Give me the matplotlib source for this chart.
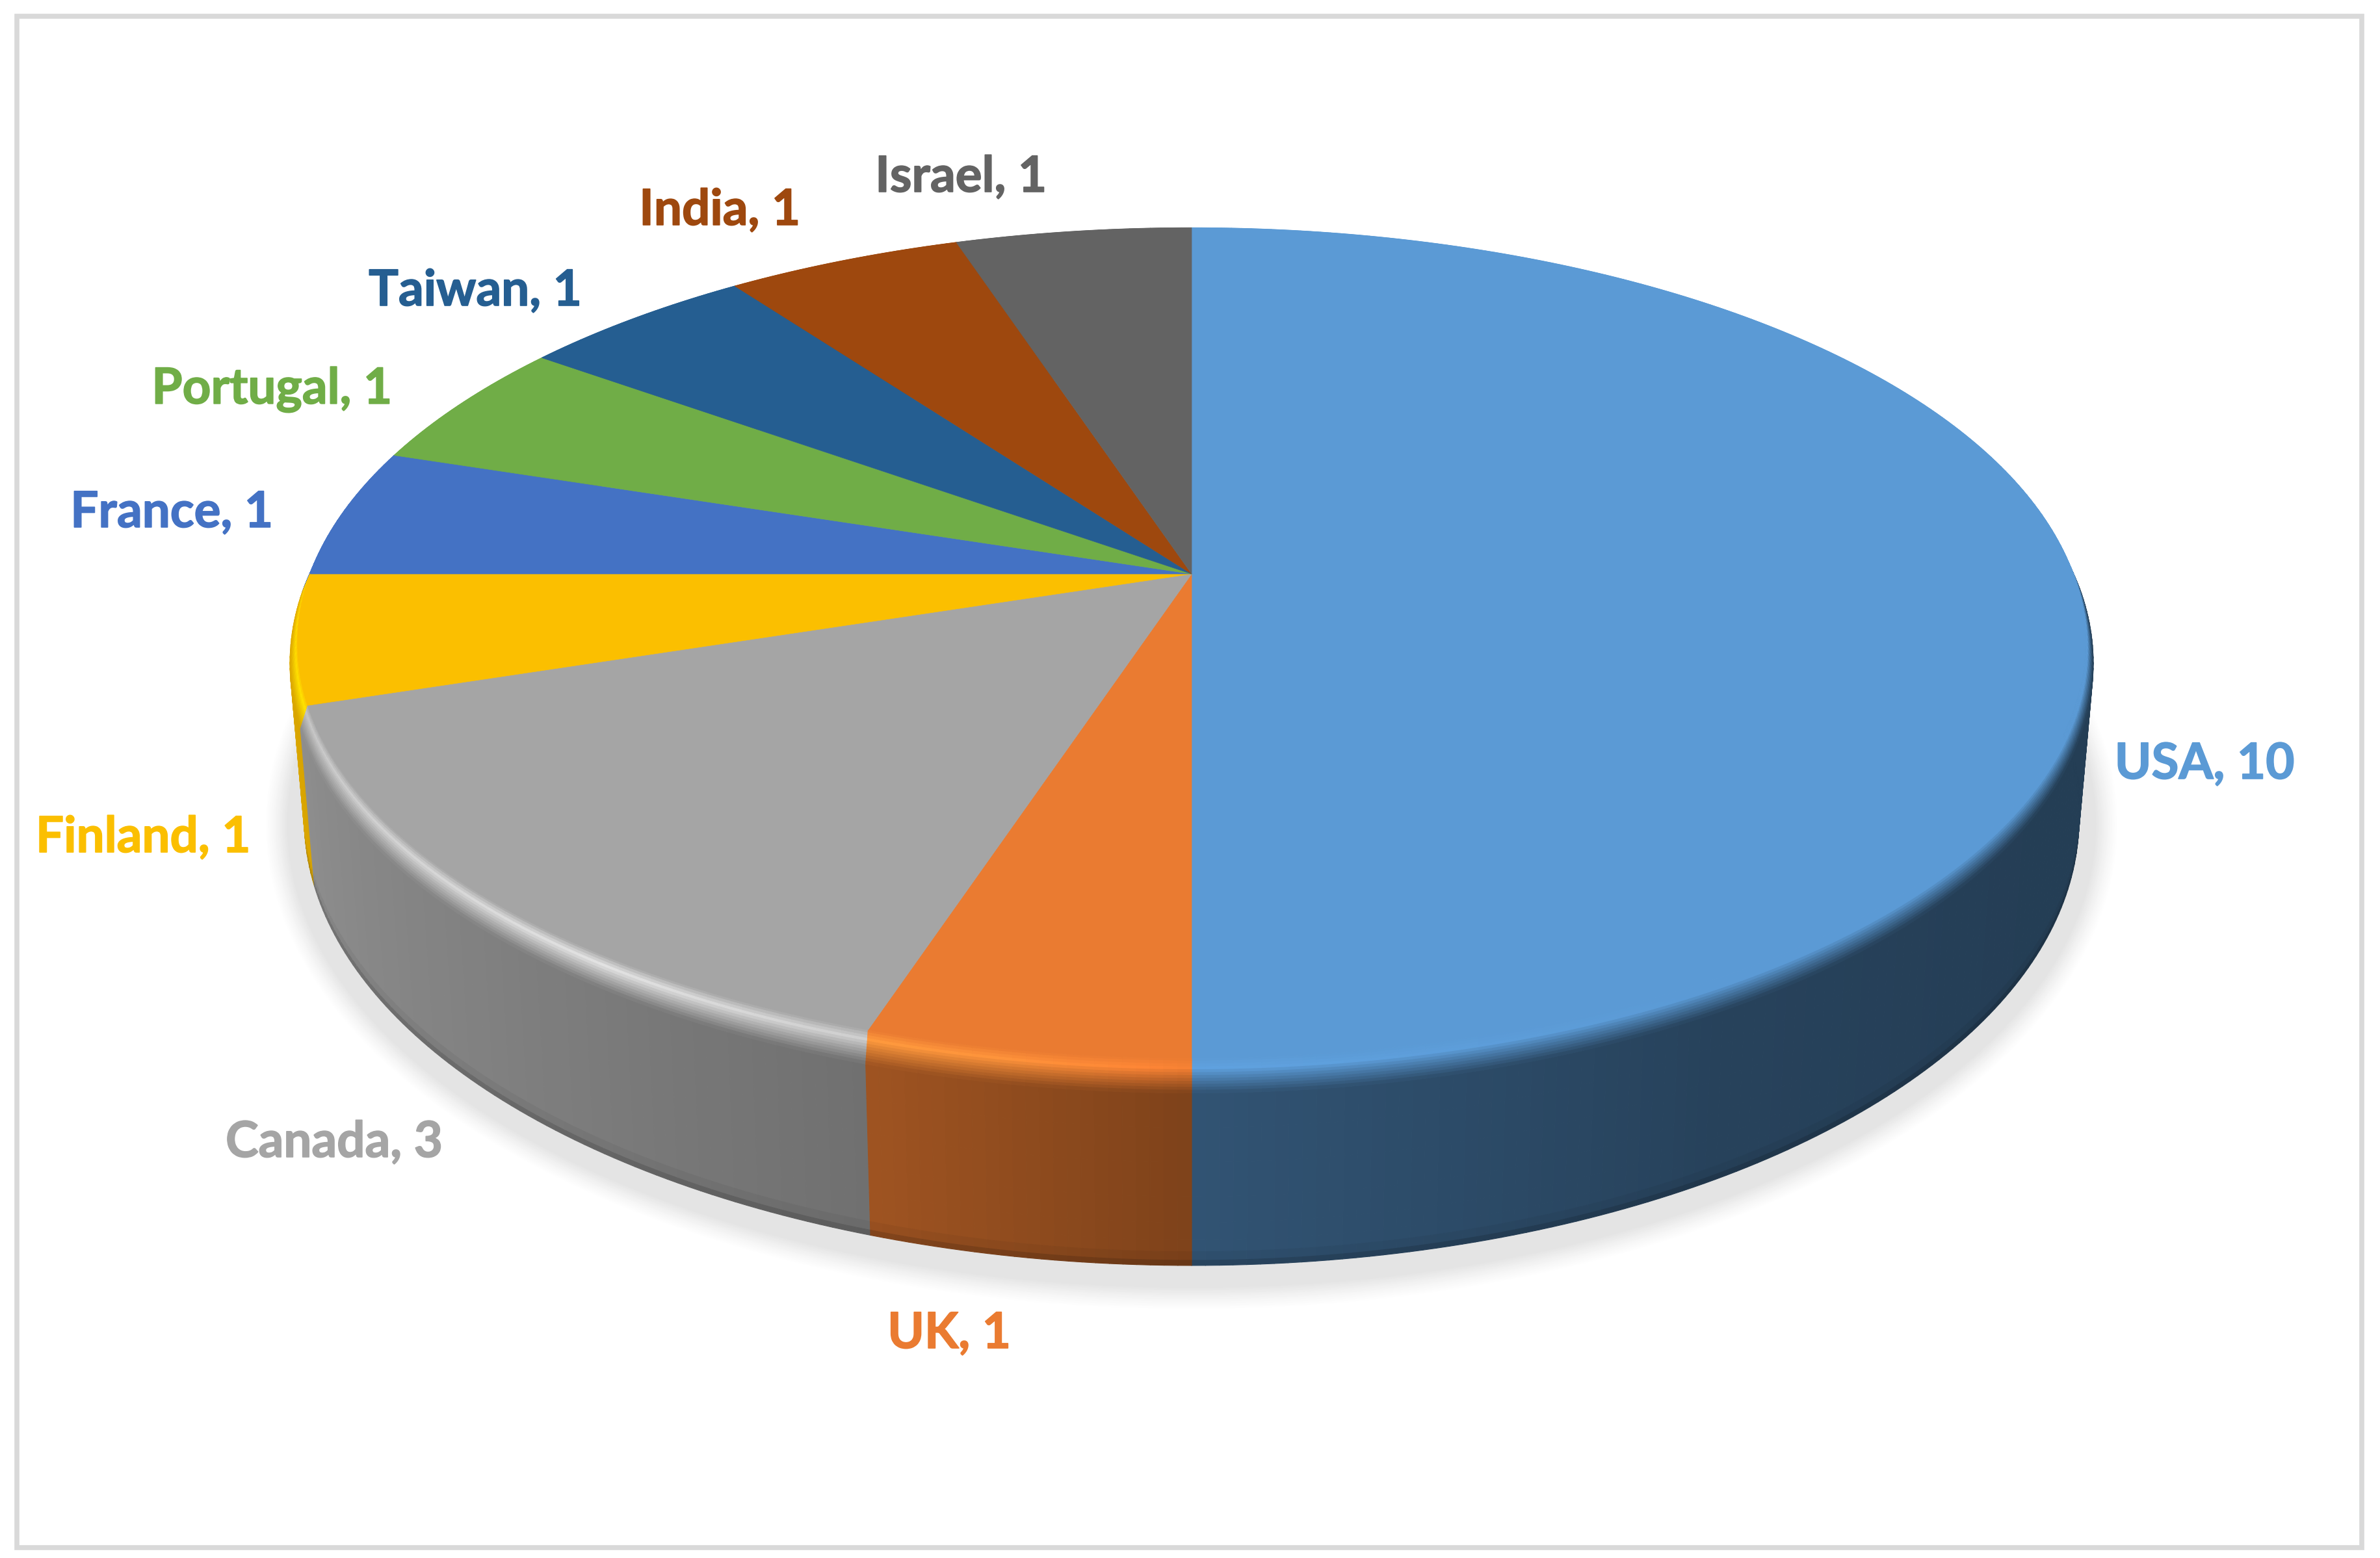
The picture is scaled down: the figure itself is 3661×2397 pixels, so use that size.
import numpy as np
import matplotlib
matplotlib.use("Agg")
import matplotlib.pyplot as plt
import matplotlib.patheffects as pe
from matplotlib.collections import PolyCollection
from matplotlib.colors import to_rgb
from matplotlib.patches import Rectangle, Polygon

# ---- data ----
countries = ["USA", "UK", "Canada", "Finland", "France", "Portugal", "Taiwan", "India", "Israel"]
counts = [10, 1, 3, 1, 1, 1, 1, 1, 1]
colors = ["#5B9AD5", "#EA7B31", "#A5A5A5", "#FBBF00", "#4472C4", "#70AD47", "#255E91", "#9E480E", "#636363"]

# ---- label centres (figure pixels) ----
label_x = [3391, 1460, 514, 220, 264, 418, 731, 1107, 1478]
label_y = [1176, 2052, 1758, 1289, 789, 600, 448, 324, 273]

W, H = 3662, 2397
CX = 1833
K = 0.166
FONT = 55

plt.rcParams['font.family'] = ['Lato', 'DejaVu Sans']
fig = plt.figure(figsize=(W / 100, H / 100), dpi=100, facecolor="white")
ax = fig.add_axes([0, 0, 1, 1])
ax.set_xlim(0, W)
ax.set_ylim(H, 0)
ax.axis("off")


def proj(t, a, b, cy):
    """Perspective projection of a circle; t is clockwise from the top, radians."""
    x, y = np.sin(t), np.cos(t)
    d = 1 + K * y
    return CX + a * x / d, cy - b * y / d


def top_edge(t):
    return proj(t, 1356, 621, 883)


def bevel_edge(t):
    x, y = top_edge(t)
    return x + 12 * np.sin(t), y + 28 + 26 * np.clip(-np.cos(t), 0, 1)


def bottom_edge(t):
    return proj(t, 1346, 668, 1146)


def side_shade(deg):
    return np.interp(deg, [0, 120, 150, 180, 198, 225, 252, 270, 300, 360],
                     [.40, .40, .43, .54, .68, .78, .86, .90, 1.0, 1.0])


def highlight(deg):
    return np.interp(deg, [0, 150, 180, 190, 215, 252, 270, 360],
                     [0, 0, .05, .2, .38, .2, .10, .0])


frame = Rectangle((26, 25), 3607, 2356, fill=False, edgecolor="#D9D9D9", linewidth=5.5, zorder=1)
ax.add_patch(frame)

# shadow below the disc
tt = np.linspace(0, 2 * np.pi, 500)
for d in np.linspace(62, 0, 40):
    level = 1 - (1 - 0xE4 / 255) * np.clip((62 - d) / 36, 0, 1) ** 1.3
    ax.add_patch(Polygon(np.c_[CX + (1365 + d) * np.cos(tt), 1268 + (687 + d) * np.sin(tt)],
                         closed=True, facecolor=(level,) * 3, edgecolor="none", zorder=2))

# wedge angles from the values
total = sum(counts)
edges = np.concatenate([[0], np.cumsum(counts)]) / total * 2 * np.pi

side_polys, side_cols, side_keys = [], [], []
bev_polys, bev_cols, bev_keys = [], [], []
rows = np.array([0, .2, .4, .6, .75, .85, .92, .97, 1.0])
row_dark = np.array([1, 1, 1, 1, 1, 1, .95, .82, .68])
bev_s = np.linspace(0, 1, 13)


def bevel_colour(base, deg, s):
    side = base * side_shade(deg)
    lit = np.clip(base * (1 + highlight(deg)), 0, 1)
    if s < .3:
        return base + (lit - base) * (s / .3)
    return lit + (side - lit) * ((s - .3) / .7) ** .9


for i, col in enumerate(colors):
    base = np.array(to_rgb(col))
    n = max(2, int((edges[i + 1] - edges[i]) / np.radians(0.75)))
    th = np.linspace(edges[i], edges[i + 1], n + 1)
    for t0, t1 in zip(th[:-1], th[1:]):
        deg = np.degrees((t0 + t1) / 2)
        p0, p1 = np.array(bevel_edge(t0)), np.array(bevel_edge(t1))
        q0, q1 = np.array(bottom_edge(t0)), np.array(bottom_edge(t1))
        for j in range(len(rows) - 1):
            s0, s1 = rows[j], rows[j + 1]
            side_polys.append([p0 + (q0 - p0) * s0, p1 + (q1 - p1) * s0,
                               p1 + (q1 - p1) * s1, p0 + (q0 - p0) * s1])
            side_cols.append(base * side_shade(deg) * row_dark[j])
            side_keys.append(-np.cos((t0 + t1) / 2))
        a0, a1 = np.array(top_edge(t0)), np.array(top_edge(t1))
        for j in range(len(bev_s) - 1):
            s0, s1 = bev_s[j], bev_s[j + 1]
            bev_polys.append([a0 + (p0 - a0) * s0, a1 + (p1 - a1) * s0,
                              a1 + (p1 - a1) * s1, a0 + (p0 - a0) * s1])
            bev_cols.append(bevel_colour(base, deg, (s0 + s1) / 2))
            bev_keys.append(-np.cos((t0 + t1) / 2))

order = np.argsort(side_keys, kind="stable")
ax.add_collection(PolyCollection([side_polys[i] for i in order],
                                 facecolors=[side_cols[i] for i in order],
                                 edgecolors=[side_cols[i] for i in order], linewidths=0.8, zorder=3))
order = np.argsort(bev_keys, kind="stable")
ax.add_collection(PolyCollection([bev_polys[i] for i in order],
                                 facecolors=[bev_cols[i] for i in order],
                                 edgecolors=[bev_cols[i] for i in order], linewidths=0.8, zorder=4))

# flat top wedges
for i, col in enumerate(colors):
    th = np.linspace(edges[i], edges[i + 1], 200)
    xs, ys = top_edge(th)
    ax.add_patch(Polygon(np.c_[np.r_[CX, xs], np.r_[883, ys]], closed=True,
                         facecolor=col, edgecolor=col, linewidth=0.5, zorder=5))

# labels
for name, v, col, x, y in zip(countries, counts, colors, label_x, label_y):
    ax.text(x, y, f"{name}, {v}", color=col, fontsize=FONT, fontweight="bold",
            ha="center", va="center", zorder=7,
            path_effects=[pe.withStroke(linewidth=1.2, foreground=col)])

fig.savefig("out.png", dpi=100, facecolor="white")
